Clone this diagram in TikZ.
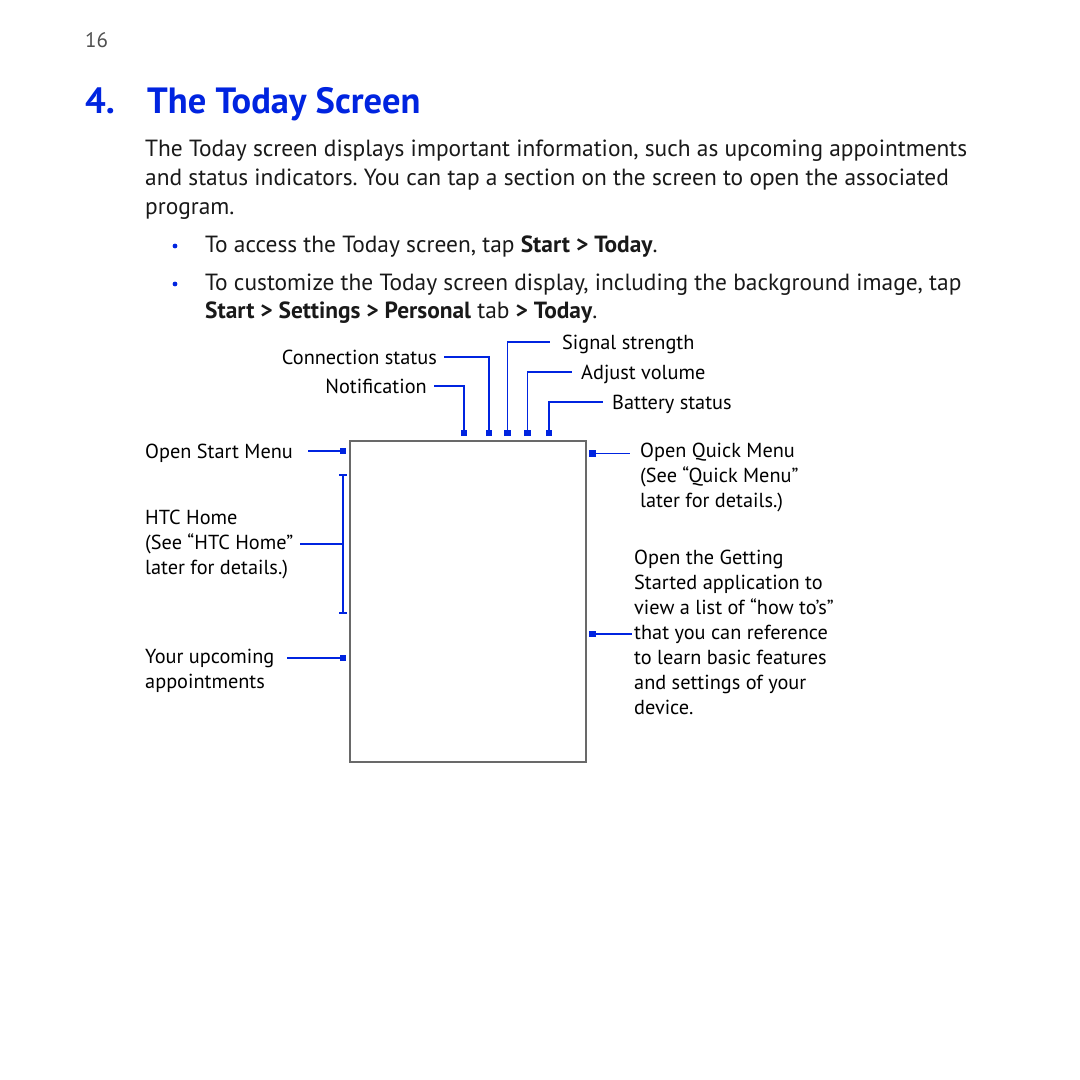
\documentclass[tikz,border=0pt]{standalone}
\usepackage{fontspec}
\setmainfont{PT Sans}
\usetikzlibrary{positioning}

\definecolor{htcblue}{RGB}{0,36,224}
\definecolor{framegray}{RGB}{105,105,105}
\definecolor{pagegray}{RGB}{80,80,80}

\newcommand{\stackrows}[1]{\begin{tabular}[t]{@{}l@{}}#1\end{tabular}}
\frenchspacing

\tikzset{
    body/.style={font=\fontsize{23.4}{29}\selectfont, inner sep=0pt, text=black!90},
    lbl/.style={font=\fontsize{20.3}{25}\selectfont, inner sep=0pt, text height=14pt, text depth=0pt},
    lblrows/.style={font=\fontsize{20.3}{25}\selectfont, inner sep=0pt, anchor=base west},
    lead/.style={draw=htcblue, line width=1.4pt},
    tap/.style={fill=htcblue, minimum size=6.6pt, inner sep=0pt},
    screen/.style={draw=framegray, line width=1.9pt, minimum width=236pt, minimum height=321pt, inner sep=0pt},
}

\begin{document}
\begin{tikzpicture}[x=1pt,y=-1pt]

\useasboundingbox (0,0) rectangle (1080,1080);
\fill[white] (0,0) rectangle (1080,1080);

% page header
\node[font=\fontsize{21}{24}\selectfont, text=pagegray, inner sep=0pt, anchor=base west] (page) at (85,47) {16};
\node[font=\fontsize{36.5}{40}\selectfont\bfseries, text=htcblue, inner sep=0pt, anchor=base west] (num) at (85,113) {4.};
\node[font=\fontsize{36.5}{40}\selectfont\bfseries, text=htcblue, inner sep=0pt, anchor=base west] (title) at (147,113) {The Today Screen};

% intro text
\node[body, anchor=base west] (intro) at (145,156) {\stackrows{The Today screen displays important information, such as upcoming appointments\\
and status indicators. You can tap a section on the screen to open the associated\\
program.}};

\fill[htcblue] (175,246) circle (2.4);
\node[body, anchor=base west] (access) at (205,252) {To access the Today screen, tap \textbf{Start > Today}.};

\fill[htcblue] (175,284) circle (2.4);
\node[body, font=\fontsize{23.4}{28}\selectfont, anchor=base west] (custom) at (205,290) {\stackrows{To customize the Today screen display, including the background image, tap\\
\textbf{Start > Settings > Personal} tab \textbf{> Today}.}};

% the screen
\node[screen] (screen) at (468.3,601.2) {};

% status icons along the top
\node[tap] (tapNote) at (464,433) {};
\node[tap] (tapConn) at (489,433) {};
\node[tap] (tapSignal) at (507.7,433) {};
\node[tap] (tapVolume) at (527.3,433) {};
\node[tap] (tapBattery) at (549,433) {};

\node[lbl, anchor=east] (conn) at (437,357) {Connection status};
\node[lbl, anchor=east] (note) at (427,386) {Notification};
\node[lbl, anchor=west] (signal) at (562,342) {Signal strength};
\node[lbl, anchor=west] (volume) at (581,372) {Adjust volume};
\node[lbl, anchor=west] (battery) at (612,402) {Battery status};

\draw[lead] ([xshift=7pt]conn.east) -| (tapConn);
\draw[lead] ([xshift=7pt]note.east) -| (tapNote);
\draw[lead] (tapSignal) |- ([xshift=-12pt]signal.west);
\draw[lead] (tapVolume) |- ([xshift=-9pt]volume.west);
\draw[lead] (tapBattery) |- ([xshift=-9pt]battery.west);

% left side
\node[tap] (tapStart) at (343,451) {};
\node[tap] (tapAppt) at (343,658) {};
\node[lbl, anchor=west] (start) at (145,451) {Open Start Menu};
\node[lblrows] (home) at (145,524.5) {\stackrows{HTC Home\\(See “HTC Home”\\later for details.)}};
\node[lblrows] (appt) at (145,663.5) {\stackrows{Your upcoming\\appointments}};

\coordinate (startEnd) at (308,451);
\coordinate (homeEnd) at (300,544);
\coordinate (apptEnd) at (287,658);
\coordinate (homeTop) at (343,475);
\coordinate (homeBot) at (343,613);
\coordinate (homeMid) at (343,544);

\draw[lead] (startEnd) -- (tapStart);
\draw[lead] (apptEnd) -- (tapAppt);
\draw[lead] (homeTop) -- (homeBot);
\draw[lead] ([xshift=-4pt]homeTop) -- ([xshift=4pt]homeTop);
\draw[lead] ([xshift=-4pt]homeBot) -- ([xshift=4pt]homeBot);
\draw[lead] (homeEnd) -- (homeMid);

% right side
\node[tap] (tapQuick) at (592.3,453.3) {};
\node[tap] (tapGuide) at (592.3,634) {};
\node[lblrows] (quick) at (640,457.5) {\stackrows{Open Quick Menu\\(See “Quick Menu”\\later for details.)}};
\node[lblrows] (guide) at (634,564.5) {\stackrows{Open the Getting\\Started application to\\view a list of “how to’s”\\that you can reference\\to learn basic features\\and settings of your\\device.}};

\coordinate (quickEnd) at (630,453.3);
\coordinate (guideEnd) at (632,634);
\draw[lead] (tapQuick) -- (quickEnd);
\draw[lead] (tapGuide) -- (guideEnd);

\end{tikzpicture}
\end{document}
